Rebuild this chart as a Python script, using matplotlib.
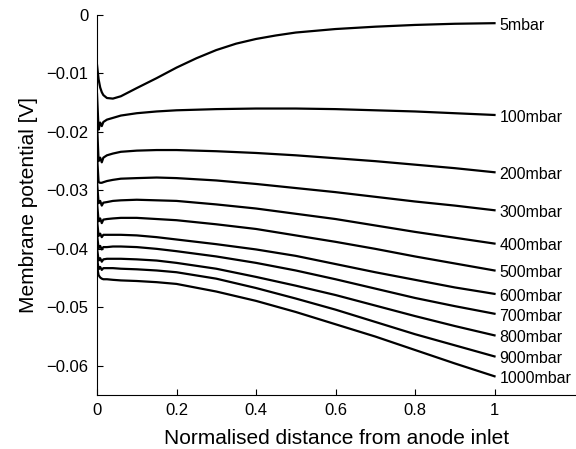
import matplotlib
matplotlib.use("Agg")
import matplotlib.pyplot as plt

plt.rcParams['font.family'] = ['Liberation Sans', 'DejaVu Sans']

# sample positions along the channel (normalised)
x = [0, 0.004, 0.008, 0.012, 0.016, 0.025, 0.04, 0.06, 0.1, 0.15,
     0.2, 0.3, 0.4, 0.5, 0.6, 0.7, 0.8, 0.9, 1.0]
# the 5 mbar curve bends more, so it is read at a few more positions
x_5 = [0, 0.004, 0.008, 0.012, 0.016, 0.025, 0.04, 0.06, 0.1, 0.15,
       0.2, 0.25, 0.3, 0.35, 0.4, 0.45, 0.5, 0.6, 0.7, 0.8, 0.9, 1.0]

labels = ['5mbar', '100mbar', '200mbar', '300mbar', '400mbar', '500mbar',
          '600mbar', '700mbar', '800mbar', '900mbar', '1000mbar']

# membrane potential [V], one list per pressure
v_5 = [-0.0085, -0.0110, -0.0124, -0.0132, -0.0137, -0.0142, -0.0143, -0.0139, -0.0125, -0.0108,
       -0.0090, -0.0074, -0.0060, -0.0049, -0.0041, -0.0035, -0.0030, -0.0024, -0.0020, -0.0017,
       -0.0015, -0.0014]
v_100 = [-0.0135, -0.0196, -0.0184, -0.0190, -0.0183, -0.0179, -0.0176, -0.0172, -0.0168, -0.0165,
         -0.0163, -0.0161, -0.0160, -0.0160, -0.0161, -0.0163, -0.0165, -0.0168, -0.0171]
v_200 = [-0.0185, -0.0250, -0.0244, -0.0252, -0.0244, -0.0240, -0.0237, -0.0234, -0.0232, -0.0231,
         -0.0231, -0.0233, -0.0236, -0.0240, -0.0245, -0.0250, -0.0256, -0.0262, -0.0269]
v_300 = [-0.0240, -0.0286, -0.0287, -0.0287, -0.0286, -0.0284, -0.0282, -0.0280, -0.0279, -0.0278,
         -0.0279, -0.0283, -0.0289, -0.0296, -0.0303, -0.0311, -0.0319, -0.0326, -0.0334]
v_400 = [-0.0285, -0.0322, -0.0318, -0.0326, -0.0321, -0.0320, -0.0318, -0.0317, -0.0316, -0.0317,
         -0.0318, -0.0324, -0.0331, -0.0340, -0.0349, -0.0360, -0.0371, -0.0381, -0.0391]
v_500 = [-0.0320, -0.0353, -0.0348, -0.0356, -0.0350, -0.0349, -0.0348, -0.0347, -0.0347, -0.0349,
         -0.0351, -0.0358, -0.0366, -0.0377, -0.0388, -0.0400, -0.0413, -0.0425, -0.0437]
v_600 = [-0.0350, -0.0378, -0.0374, -0.0380, -0.0376, -0.0376, -0.0376, -0.0376, -0.0377, -0.0380,
         -0.0384, -0.0392, -0.0401, -0.0412, -0.0426, -0.0440, -0.0453, -0.0466, -0.0477]
v_700 = [-0.0375, -0.0399, -0.0395, -0.0401, -0.0397, -0.0397, -0.0396, -0.0396, -0.0397, -0.0400,
         -0.0404, -0.0413, -0.0424, -0.0437, -0.0452, -0.0468, -0.0484, -0.0498, -0.0511]
v_800 = [-0.0398, -0.0420, -0.0416, -0.0422, -0.0418, -0.0417, -0.0417, -0.0417, -0.0418, -0.0420,
         -0.0424, -0.0434, -0.0448, -0.0463, -0.0479, -0.0497, -0.0515, -0.0532, -0.0548]
v_900 = [-0.0415, -0.0435, -0.0431, -0.0436, -0.0433, -0.0433, -0.0433, -0.0434, -0.0435, -0.0437,
         -0.0440, -0.0451, -0.0467, -0.0485, -0.0504, -0.0525, -0.0546, -0.0565, -0.0584]
v_1000 = [-0.0430, -0.0445, -0.0449, -0.0451, -0.0452, -0.0452, -0.0453, -0.0454, -0.0455, -0.0457,
          -0.0460, -0.0473, -0.0489, -0.0508, -0.0529, -0.0550, -0.0573, -0.0596, -0.0618]

curves = [v_5, v_100, v_200, v_300, v_400, v_500, v_600, v_700, v_800, v_900, v_1000]
xs = [x_5] + [x] * 10

xticks = [0, 0.2, 0.4, 0.6, 0.8, 1]
xticklabels = ['0', '0.2', '0.4', '0.6', '0.8', '1']
yticks = [0, -0.01, -0.02, -0.03, -0.04, -0.05, -0.06]
yticklabels = ['0', '\u22120.01', '\u22120.02', '\u22120.03', '\u22120.04', '\u22120.05', '\u22120.06']

fig = plt.figure(figsize=(5.76, 4.49), dpi=100)
ax = fig.add_axes([97 / 576, 54 / 449, 479 / 576, 380 / 449])

for xv, vals, lab in zip(xs, curves, labels):
    ax.plot(xv, vals, color='black', lw=1.6, solid_joinstyle='round')
    ax.text(1.012, vals[-1] - 0.0004, lab, ha='left', va='center', fontsize=11.5)

ax.set_xlim(0, 1.205)
ax.set_ylim(-0.065, 0)
ax.set_xticks(xticks)
ax.set_xticklabels(xticklabels, fontsize=12)
ax.set_yticks(yticks)
ax.set_yticklabels(yticklabels, fontsize=12)
ax.tick_params(direction='in', length=4, width=0.8, pad=6)
ax.spines['top'].set_visible(False)
ax.spines['right'].set_visible(False)
ax.spines['left'].set_linewidth(0.8)
ax.spines['bottom'].set_linewidth(0.8)

ax.set_xlabel('Normalised distance from anode inlet', fontsize=15, labelpad=8)
ax.set_ylabel('Membrane potential [V]', fontsize=15, labelpad=6)

fig.savefig('out.png', dpi=100)
